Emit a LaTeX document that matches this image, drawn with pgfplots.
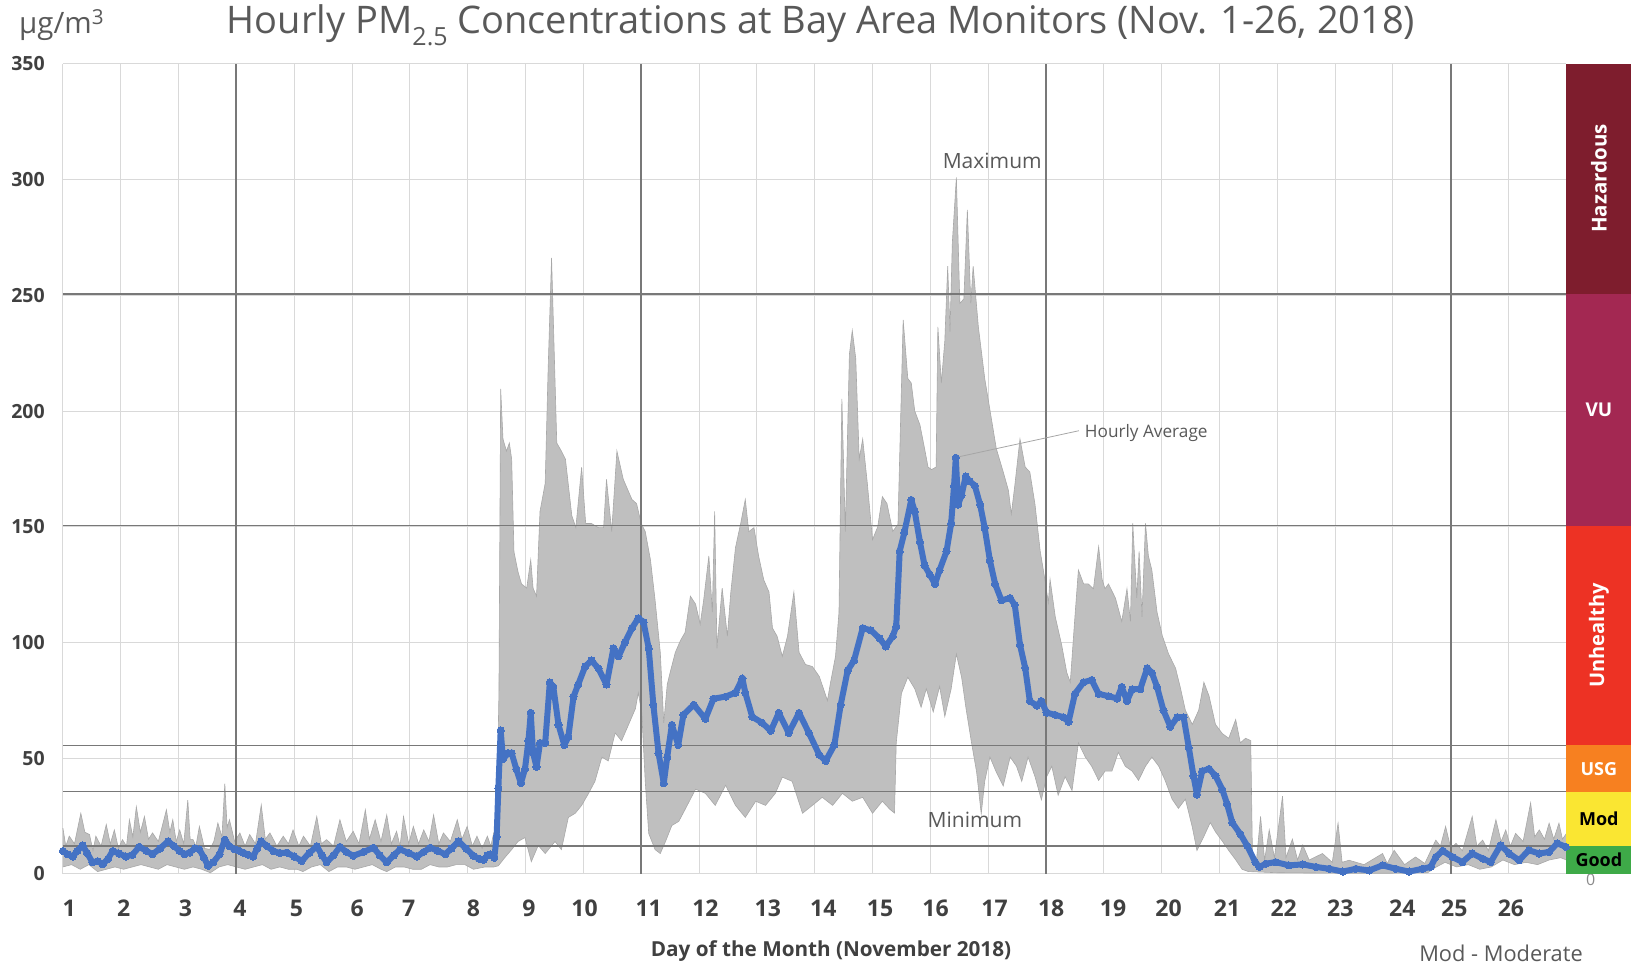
\documentclass[border=0pt]{standalone}
\usepackage{fontspec}
\setmainfont{Open Sans}
\usepackage{pgfplots}
\pgfplotsset{compat=1.18}
\usepgfplotslibrary{fillbetween}
\usepackage{pgfplotstable}

\definecolor{lightgrid}{RGB}{217,217,217}
\definecolor{darkgrid}{RGB}{120,120,120}
\definecolor{bandgray}{RGB}{191,191,191}
\definecolor{bandedge}{RGB}{168,168,168}
\definecolor{avgblue}{RGB}{68,114,196}
\definecolor{txtgray}{RGB}{89,89,89}
\definecolor{tickgray}{RGB}{64,64,64}
\definecolor{hazc}{RGB}{126,29,45}
\definecolor{vuc}{RGB}{163,40,82}
\definecolor{unhc}{RGB}{237,50,36}
\definecolor{usgc}{RGB}{247,128,32}
\definecolor{modc}{RGB}{250,230,50}
\definecolor{goodc}{RGB}{62,170,72}
\newcommand{\fs}[1]{\fontsize{#1}{#1}\selectfont}

\pgfplotstableread{
x y
0.00 9.9
0.08 8.5
0.17 7.5
0.25 10
0.34 12.3
0.42 9
0.51 5.0
0.60 5.5
0.69 4.2
0.78 6.5
0.86 9.9
0.97 8.8
1.09 7.5
1.20 8.2
1.32 11.7
1.44 10
1.55 8.5
1.68 11
1.82 14.1
1.92 12
2.02 9.9
2.10 8.5
2.19 9.2
2.28 11
2.36 10.6
2.44 7
2.51 3.5
2.60 5
2.71 8.5
2.80 14.8
2.88 12
2.97 10.6
3.05 10
3.12 9.2
3.20 8.3
3.29 7.5
3.36 11
3.43 14.1
3.53 12
3.64 9.9
3.75 9
3.87 9.2
4.00 7.5
4.13 5.6
4.26 9
4.39 12.0
4.48 8
4.56 5.0
4.68 8
4.79 11.7
4.90 9.5
5.02 7.8
5.20 9.5
5.37 11.3
5.48 8
5.60 5.0
5.72 8
5.83 10.6
5.98 9
6.12 7.5
6.24 9.5
6.35 11.3
6.48 10
6.61 8.5
6.72 11
6.84 14.1
6.97 11
7.10 7.8
7.20 6.5
7.28 6.1
7.34 8
7.39 8.5
7.46 7.0
7.50 16
7.53 37
7.57 62
7.61 49.6
7.70 52.2
7.76 52.2
7.84 45.3
7.92 39.2
7.99 45.3
8.05 57.5
8.09 69.6
8.13 52.2
8.19 46.2
8.25 56.6
8.34 56.6
8.42 82.7
8.48 80.9
8.57 64.4
8.67 55.7
8.74 59.2
8.83 76.6
8.91 81.8
9.03 89.6
9.14 92.2
9.26 88.8
9.40 81.8
9.52 97.5
9.61 94.0
9.72 100.1
9.84 106.2
9.95 110.5
10.04 108.8
10.13 97.5
10.21 73.1
10.30 52.2
10.39 39.2
10.45 50.5
10.53 64.4
10.64 55.7
10.73 68.7
10.91 73.1
11.11 67.0
11.25 75.7
11.46 76.6
11.63 78.3
11.75 84.4
11.80 78.3
11.92 67.9
12.09 65.3
12.24 61.8
12.38 69.6
12.55 60.9
12.73 69.6
12.90 60.9
13.08 51.4
13.19 48.8
13.34 55.7
13.45 73.1
13.57 87.9
13.68 92.2
13.83 106.2
13.97 105.3
14.12 101.8
14.23 98.3
14.35 102.7
14.41 107
14.47 139.4
14.55 147.5
14.67 161.6
14.73 156.6
14.82 143.4
14.90 133.3
14.99 129.3
15.08 125.3
15.16 131.3
15.28 139.4
15.36 151.5
15.41 167.7
15.44 179.8
15.48 159.6
15.54 163.6
15.61 171.7
15.68 169.7
15.77 167.7
15.86 159.6
15.94 149.5
16.03 135.4
16.12 125.3
16.23 118.2
16.38 119.2
16.46 116.2
16.55 99
16.64 89
16.72 74.7
16.84 72.7
16.92 74.7
17.01 69.7
17.16 68.7
17.30 67.7
17.39 65.7
17.50 77.8
17.65 82.8
17.79 83.8
17.91 77.8
18.08 76.8
18.23 75.8
18.31 80.8
18.40 74.7
18.49 79.8
18.63 79.8
18.75 88.9
18.83 86.9
18.92 80.8
19.03 70.7
19.15 63.6
19.27 67.7
19.38 67.7
19.47 54.5
19.55 42.4
19.61 34.3
19.70 44.4
19.82 45.4
19.93 42.4
20.05 36.4
20.13 30.3
20.22 22.2
20.36 17.2
20.48 12.1
20.62 5.0
20.69 3
20.80 4.4
20.97 5.1
21.20 3.7
21.44 4.1
21.67 3.0
21.90 2.2
22.13 1.0
22.36 2.2
22.59 1.5
22.82 3.7
23.05 2.2
23.28 1.0
23.51 2.2
23.65 3.0
23.74 7.3
23.86 10
24.03 7.3
24.20 5.1
24.37 8.8
24.55 6.6
24.69 5.1
24.86 12.4
25.01 8.8
25.18 5.9
25.35 10.2
25.53 8.8
25.70 9.5
25.84 13.2
25.99 11.7
}\avgdata

\pgfplotstableread{
x y
0.00 19.8
0.05 12
0.11 16.3
0.20 13
0.31 26.2
0.38 18
0.46 17
0.52 10
0.57 16.3
0.66 12
0.75 21.3
0.82 13
0.89 19
0.96 11
1.03 14.8
1.10 12
1.15 23.4
1.21 16
1.27 29
1.34 18
1.41 24.8
1.48 15
1.55 17.7
1.65 14
1.79 27.7
1.85 18
1.90 23.4
1.96 14
2.02 19
2.09 13
2.16 31.9
2.20 15
2.25 14.8
2.30 12
2.36 20.5
2.45 11
2.54 10.6
2.61 14
2.68 22
2.75 16
2.80 39
2.84 20
2.88 23.4
2.97 14
3.06 17.7
3.15 12
3.23 17
3.33 13
3.43 29.8
3.50 15
3.58 17.7
3.70 12
3.81 16.3
3.90 13
3.98 19
4.08 12
4.16 16.3
4.28 12
4.39 24.8
4.47 13
4.56 14.8
4.68 12
4.79 23.4
4.90 14
5.02 18.4
5.12 13
5.23 27.7
5.30 15
5.40 23.4
5.50 14
5.60 25.5
5.68 13
5.77 18.4
5.83 12
5.89 24.8
5.98 13
6.06 20.5
6.15 13
6.24 19
6.33 14
6.41 25.5
6.50 13
6.58 17.7
6.70 14
6.82 23.4
6.90 15
6.99 20.5
7.08 12
7.16 16.3
7.25 11
7.34 16.3
7.40 12
7.45 17.7
7.50 20
7.54 78.3
7.57 209.6
7.61 187.9
7.67 182.7
7.72 186.2
7.76 179.2
7.80 139.2
7.87 130.5
7.93 125.3
8.02 123.5
8.09 135.7
8.13 123.5
8.19 120
8.25 156.6
8.34 168.8
8.39 217.5
8.45 266.2
8.54 186.2
8.62 182.7
8.69 179.2
8.80 154.8
8.87 149.6
8.97 175.7
9.04 151.4
9.14 151.4
9.26 149.6
9.35 149.6
9.40 170.5
9.49 147.9
9.58 182.7
9.69 170.5
9.75 167
9.84 161.8
9.92 160
10.00 151.4
10.07 147.9
10.16 135.7
10.24 118.3
10.33 95.7
10.39 65.3
10.45 81.8
10.50 87.0
10.59 95.7
10.68 100.9
10.76 104.4
10.85 120
10.94 116.6
11.02 107.9
11.08 118.3
11.17 137.4
11.23 113.1
11.27 156.6
11.31 97.5
11.40 123.5
11.49 102.7
11.55 121.8
11.63 140.9
11.72 151.4
11.80 161.8
11.86 147.9
11.95 149.6
12.03 137.4
12.12 127
12.21 121.8
12.27 106.2
12.35 102.7
12.44 94.0
12.53 102.7
12.64 121.8
12.73 95.7
12.84 90.5
12.96 89.6
13.08 85.3
13.22 74.9
13.28 83.5
13.36 94
13.42 113
13.47 205.3
13.53 147.9
13.60 224.4
13.65 234.8
13.71 222.7
13.77 179.2
13.83 187.9
13.91 168.8
14.00 144.4
14.09 150
14.17 163
14.25 160
14.35 148
14.44 151
14.53 239.4
14.61 214.1
14.67 212.1
14.73 200
14.82 194
14.90 183.8
14.96 175.8
15.02 174.7
15.10 175.8
15.13 236.4
15.19 212.1
15.25 230.3
15.30 262.6
15.34 234.3
15.38 272.7
15.41 284.8
15.45 301
15.51 246.5
15.58 248.5
15.64 286.9
15.70 246.5
15.74 262.6
15.83 236.4
15.94 214.1
16.06 196
16.14 183.8
16.26 173.7
16.35 165.7
16.40 155.5
16.46 167.7
16.55 187.9
16.64 175.8
16.72 173.7
16.81 159.6
16.90 139.4
16.98 127.3
17.04 117.2
17.07 127.3
17.16 111.1
17.27 99
17.36 86.9
17.42 82.8
17.50 111.1
17.56 131.3
17.65 125.3
17.73 125.3
17.82 123.2
17.91 141.4
17.97 127.3
18.02 123.2
18.08 125.3
18.20 119.2
18.31 109.1
18.40 123.2
18.46 109.1
18.50 151.5
18.57 119.2
18.61 139.4
18.66 111.1
18.72 151.5
18.77 137.4
18.83 131.3
18.92 113.1
19.01 103
19.12 95
19.24 88.9
19.32 80.8
19.41 70.7
19.53 64.6
19.64 70.7
19.73 82.8
19.82 76.8
19.93 64.6
20.05 60.6
20.16 58.6
20.28 66.7
20.36 56.6
20.45 58.6
20.54 57.6
20.57 8
20.64 6
20.71 24.8
20.78 6
20.86 19
20.95 7
21.09 33.6
21.15 7
21.26 15
21.35 6
21.44 12.5
21.55 6
21.78 8.8
21.95 5
22.05 21.9
22.12 5
22.24 5.9
22.50 4
22.82 8.8
22.90 4.5
23.02 10.2
23.20 4
23.39 7.3
23.55 4.5
23.74 14.6
23.82 12
23.91 20.5
24.00 11
24.09 13.2
24.20 10
24.37 24.8
24.45 12
24.55 14.6
24.65 10
24.78 23.4
24.87 14
24.95 19
25.03 12
25.12 17.5
25.25 14
25.38 30.7
25.45 16
25.53 19
25.62 15
25.70 21.9
25.78 15
25.87 21.9
25.93 15
26.00 17.5
}\maxdata

\pgfplotstableread{
x y
0.00 3
0.15 4
0.30 2
0.45 4
0.60 1
0.75 2
0.90 3
1.05 2
1.20 3
1.35 4
1.50 3
1.65 2
1.80 4
1.95 3
2.10 2
2.25 3
2.40 2
2.55 0.5
2.70 3
2.85 4
3.00 3
3.15 2
3.30 3
3.45 4
3.60 2
3.75 3
3.90 2
4.05 2
4.15 1
4.30 3
4.45 4
4.60 1
4.75 3
4.90 3
5.05 2
5.20 3
5.35 4
5.50 2
5.60 1
5.75 3
5.90 3
6.05 2
6.20 2
6.35 4
6.50 3
6.65 3
6.80 4
6.95 4
7.10 2
7.30 3
7.45 3
7.53 3.5
7.64 7
7.76 10.5
7.87 14
7.99 15.7
8.10 5.3
8.22 12.3
8.34 8.8
8.51 14
8.62 10.5
8.74 24.4
8.86 26.2
8.97 29.6
9.09 34.8
9.20 40
9.32 50.5
9.43 48.8
9.55 60.9
9.66 57.5
9.78 64.4
9.90 71.4
9.95 78.3
10.01 69.6
10.07 40
10.13 17.5
10.24 10.5
10.33 8.8
10.42 14
10.53 20.9
10.65 22.7
10.76 27.9
10.94 36.6
11.11 34.8
11.28 29.6
11.46 38.3
11.63 29.6
11.80 24.4
11.98 31.4
12.15 29.6
12.32 34.8
12.44 41.8
12.61 40
12.79 26.2
12.96 29.6
13.13 33.1
13.31 29.6
13.48 34.8
13.65 31.4
13.83 33.1
14.00 26.2
14.17 31.4
14.30 27.9
14.38 26.3
14.41 56.6
14.50 78
14.61 85
14.73 80
14.84 72
14.93 80
15.05 70
15.16 81
15.25 68
15.36 80
15.45 95
15.54 85
15.62 71
15.71 57
15.80 44
15.88 26
15.94 40
16.03 50.5
16.14 44
16.26 38
16.38 50.5
16.49 46.5
16.58 40
16.69 50.5
16.81 42
16.92 32
17.01 42
17.10 46.5
17.21 34
17.33 42
17.45 36
17.56 56.6
17.68 50.5
17.79 46.5
17.91 40.4
18.02 44.4
18.14 44.4
18.25 52.5
18.37 46.5
18.49 44.4
18.60 40.4
18.72 46.5
18.83 50.5
18.95 46.5
19.06 40.4
19.18 32.3
19.29 28.3
19.41 32.3
19.53 20.2
19.61 10.1
19.73 16.2
19.84 22.2
19.93 18.2
20.05 14.1
20.16 10.1
20.28 6.1
20.39 2
20.50 1
21.00 0.5
22.00 0.3
23.00 0.3
23.60 0.5
23.75 3
23.90 5
24.10 3
24.30 4
24.50 2
24.70 3
24.90 6
25.10 4
25.30 5
25.50 4
25.70 6
25.90 7
26.00 6
}\mindata

\begin{document}
\begin{tikzpicture}[x=1pt,y=1pt]
\path (0,0) rectangle (1643,966);
\begin{axis}[
  at={(62.9pt,92.1pt)}, anchor=south west,
  scale only axis, width=1503.6pt, height=810pt,
  xmin=0, xmax=26, ymin=0, ymax=350,
  clip=false,
  axis line style={draw=none},
  major tick length=0pt, minor tick length=0pt,
  xtick={0.11,1.05,2.12,3.06,4.04,5.09,5.98,7.10,8.06,9.02,10.13,11.11,12.19,13.15,14.13,15.09,16.11,17.09,18.16,19.12,20.13,21.11,22.09,23.16,24.06,25.04},
  xticklabels={1,2,3,4,5,6,7,8,9,10,11,12,13,14,15,16,17,18,19,20,21,22,23,24,25,26},
  minor xtick={0,1,2,3,4,5,6,7,8,9,10,11,12,13,14,15,16,17,18,19,20,21,22,23,24,25,26},
  xminorgrids, xmajorgrids=false,
  minor x grid style={draw=lightgrid, line width=1pt},
  ytick={0,50,100,150,200,250,300,350},
  yticklabels={0,50,100,150,200,250,300,350},
  ymajorgrids,
  major y grid style={draw=lightgrid, line width=1pt},
  xticklabel style={font=\bfseries\fs{23}, text=tickgray, anchor=base, inner sep=0pt, yshift=-43pt},
  yticklabel style={font=\bfseries\fs{19.5}, text=tickgray, anchor=base east, inner sep=0pt, xshift=-18pt, yshift=-7pt},
]
\addplot[name path=maxp, draw=bandedge, line width=0.6pt] table {\maxdata};
\addplot[name path=minp, draw=bandedge, line width=0.6pt] table {\mindata};
\addplot[fill=bandgray, draw=none] fill between[of=maxp and minp];

\pgfplotsinvokeforeach{3,10,17,24}{
  \draw[darkgrid, line width=2pt] (axis cs:#1,0) -- (axis cs:#1,350);
}
\pgfplotsinvokeforeach{12,35.5,55.5,150.5,250.5}{
  \draw[darkgrid, line width=1.5pt] (axis cs:0,#1) -- (axis cs:26,#1);
}

\addplot[avgblue, line width=6pt, line join=round, line cap=round, mark=*, mark size=3.6pt,
  mark options={fill=avgblue, draw=avgblue, line width=0pt}] table {\avgdata};

\draw[black!35, line width=0.8pt] (axis cs:15.45,180) -- (axis cs:17.57,191.5);
\node[font=\fs{17.2}, text=txtgray, anchor=west, inner sep=0pt] at (axis cs:17.67,190.5) {Hourly Average};
\node[font=\fs{21}, text=txtgray] at (axis cs:16.07,308) {Maximum};
\node[font=\fs{21}, text=txtgray] at (axis cs:15.77,23.3) {Minimum};

\node[font=\fs{16}, text=txtgray!70] at (axis cs:26.42,-2.5) {0};

\fill[hazc]  (axis cs:26,250.5) rectangle (axis cs:27.12,350);
\fill[vuc]   (axis cs:26,150.5) rectangle (axis cs:27.12,250.5);
\fill[unhc]  (axis cs:26,55.5)  rectangle (axis cs:27.12,150.5);
\fill[usgc]  (axis cs:26,35.5)  rectangle (axis cs:27.12,55.5);
\fill[modc]  (axis cs:26,12)    rectangle (axis cs:27.12,35.5);
\fill[goodc] (axis cs:26,0)     rectangle (axis cs:27.12,12);
\node[rotate=90, text=white, font=\bfseries\fs{20.5}] at (axis cs:26.56,300.5) {Hazardous};
\node[text=white, font=\bfseries\fs{19}] at (axis cs:26.56,200.5) {VU};
\node[rotate=90, text=white, font=\bfseries\fs{20}] at (axis cs:26.56,103) {Unhealthy};
\node[text=white, font=\bfseries\fs{18}] at (axis cs:26.56,45.5) {USG};
\node[text=black, font=\bfseries\fs{18}] at (axis cs:26.56,23.75) {Mod};
\node[text=black, font=\bfseries\fs{18}] at (axis cs:26.56,6) {Good};
\end{axis}

\node[font=\fs{29.5}, text=txtgray, anchor=base west, inner sep=0pt] at (19,932) {μg/m\textsuperscript{3}};
\node[font=\bfseries\fs{20.7}, text=tickgray, anchor=base, inner sep=0pt] at (831,9.5) {Day of the Month (November 2018)};
\node[font=\fs{21.8}, text=txtgray, anchor=base, inner sep=0pt] at (1501,5) {Mod - Moderate};
\begin{pgfinterruptboundingbox}
\node[font=\fs{38}, text=txtgray, anchor=base, inner sep=0pt] at (821,932)
  {Hourly PM\raisebox{-0.3em}{\fs{25}2.5} Concentrations at Bay Area Monitors (Nov. 1-26, 2018)};
\end{pgfinterruptboundingbox}
\end{tikzpicture}
\end{document}
